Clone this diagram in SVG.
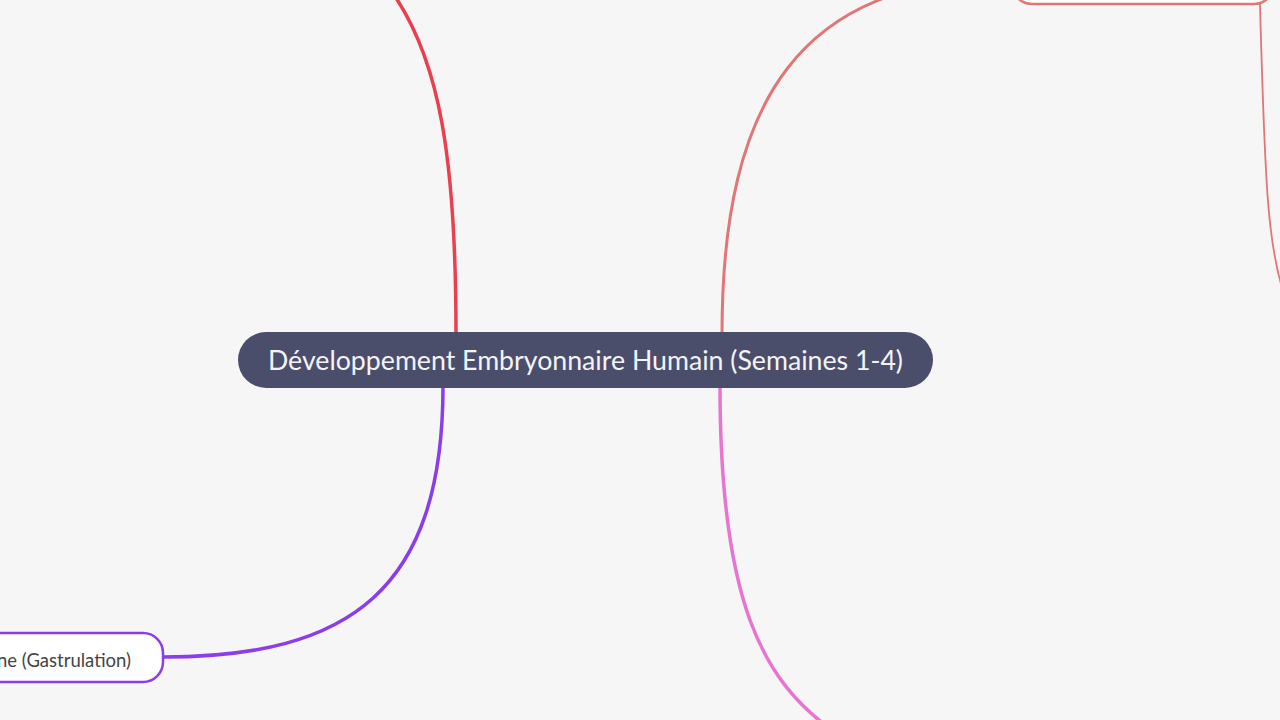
<svg xmlns="http://www.w3.org/2000/svg" width="1280" height="720" viewBox="0 0 1280 720">
<style>
.bg{fill:#f6f6f6}
.edge{fill:none;stroke-linecap:round}
.root rect{fill:#4b4e6b}
.root text{font-family:Lato,"Noto Sans",sans-serif;font-size:26px;fill:#f4f4f8;text-anchor:middle}
.child rect{fill:#ffffff;stroke-width:2.5}
.child text{font-family:Lato,"Noto Sans",sans-serif;font-size:18.5px;fill:#444444;text-anchor:end}
</style>
<rect class="bg" x="0" y="0" width="1280" height="720"/>
<g id="connectors">
<path class="edge" d="M456,334 C456,160 440,60 392,-8" stroke="#e8404f" stroke-width="3.5"/>
<path class="edge" d="M443,386 C443,590 350,657 163,657" stroke="#8a3de8" stroke-width="3.5"/>
<path class="edge" d="M722,334 C722,100 800,-22 1012,-22" stroke="#e07676" stroke-width="3"/>
<path class="edge" d="M720,386 C720,600 762,682 835,732" stroke="#e874d2" stroke-width="3.5"/>
<path class="edge" d="M1260,4 C1265,190 1268,250 1286,300" stroke="#e07676" stroke-width="1.8"/>
</g>
<g id="node-top-right" class="child">
<rect x="1012" y="-46" width="262" height="50" rx="20" stroke="#e07676"/>
</g>
<g id="node-gastrulation" class="child">
<rect x="-200" y="633" width="363" height="49" rx="20" stroke="#8a3de8"/>
<text x="131" y="667">ne (Gastrulation)</text>
</g>
<g id="node-root" class="root">
<rect x="238" y="332" width="695" height="56" rx="28"/>
<text x="585.5" y="370" textLength="635" lengthAdjust="spacingAndGlyphs">Développement Embryonnaire Humain (Semaines 1-4)</text>
</g>
</svg>
